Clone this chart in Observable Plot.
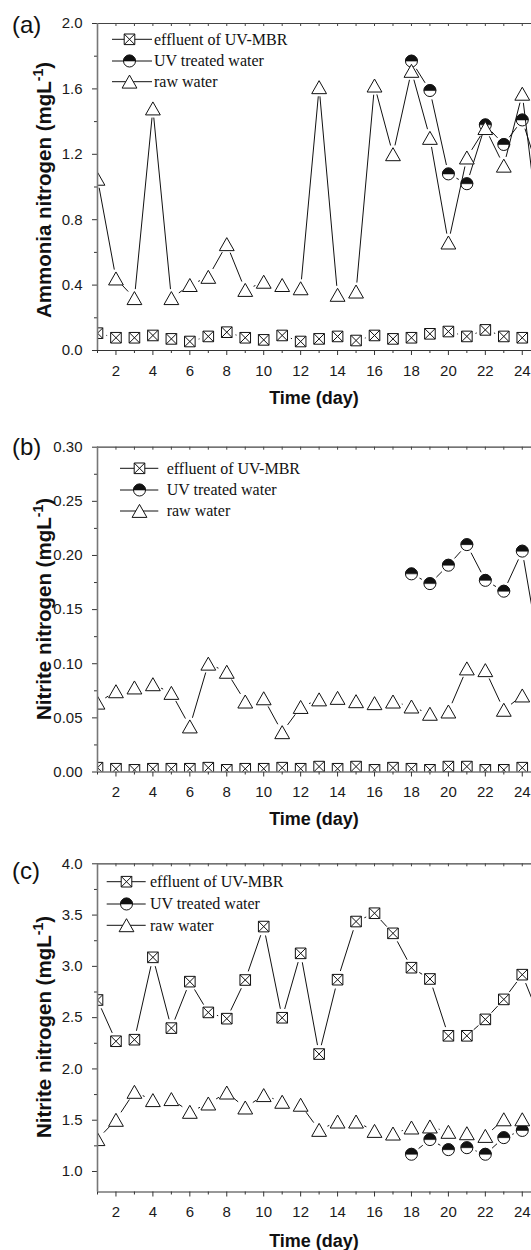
<!DOCTYPE html>
<html><head><meta charset="utf-8">
<script src="https://cdn.jsdelivr.net/npm/d3@7"></script>
<script src="https://cdn.jsdelivr.net/npm/@observablehq/plot@0.6"></script>
<style>
body{margin:0;background:#fff;}
#chart{width:531px;}
#chart svg{display:block;}
</style></head><body><div id="chart"></div>
<script>
// ---------- data ----------
const days = [1,2,3,4,5,6,7,8,9,10,11,12,13,14,15,16,17,18,19,20,21,22,23,24,25];
const seriesNames = ["effluent of UV-MBR", "UV treated water", "raw water"];
const xTickLabels = [2,4,6,8,10,12,14,16,18,20,22,24];

// (a) Ammonia nitrogen
const effluentA = [0.106,0.078,0.078,0.092,0.071,0.055,0.086,0.112,0.078,0.065,0.092,0.055,0.071,0.086,0.061,0.092,0.071,0.078,0.102,0.116,0.086,0.126,0.086,0.078,null];
const uvA = [null,null,null,null,null,null,null,null,null,null,null,null,null,null,null,null,null,1.77,1.59,1.08,1.02,1.38,1.26,1.41,1.05];
const rawA = [1.05,0.44,0.32,1.48,0.32,0.40,0.45,0.65,0.37,0.42,0.40,0.38,1.61,0.34,0.36,1.62,1.20,1.71,1.30,0.66,1.18,1.36,1.13,1.57,0.64];

// (b) Nitrite nitrogen
const effluentB = [0.004,0.003,0.002,0.003,0.003,0.003,0.004,0.002,0.003,0.003,0.004,0.003,0.005,0.003,0.005,0.002,0.004,0.003,0.002,0.005,0.005,0.002,0.002,0.004,null];
const uvB = [null,null,null,null,null,null,null,null,null,null,null,null,null,null,null,null,null,0.183,0.174,0.191,0.210,0.177,0.167,0.204,0.105];
const rawB = [0.064,0.0745,0.078,0.081,0.073,0.042,0.100,0.0925,0.065,0.068,0.0367,0.060,0.067,0.0684,0.0653,0.0635,0.065,0.0604,0.0537,0.0558,0.0956,0.094,0.0574,0.0706,null];

// (c)
const effluentC = [2.672,2.27,2.285,3.088,2.398,2.851,2.551,2.49,2.867,3.388,2.499,3.127,2.145,2.87,3.437,3.518,3.322,2.987,2.877,2.323,2.323,2.483,2.678,2.919,2.47];
const uvC = [null,null,null,null,null,null,null,null,null,null,null,null,null,null,null,null,null,1.168,1.311,1.213,1.232,1.168,1.33,1.40,null];
const rawC = [1.315,1.503,1.776,1.695,1.705,1.581,1.662,1.769,1.623,1.744,1.679,1.65,1.405,1.486,1.486,1.395,1.369,1.428,1.438,1.386,1.372,1.346,1.508,1.508,null];

const yTicksA = [0,0.4,0.8,1.2,1.6,2.0], yMinorA = [0.2,0.6,1.0,1.4,1.8];
const yTicksB = [0,0.05,0.10,0.15,0.20,0.25,0.30], yMinorB = [0.025,0.075,0.125,0.175,0.225,0.275];
const yTicksC = [1.0,1.5,2.0,2.5,3.0,3.5,4.0], yMinorC = [1.25,1.75,2.25,2.75,3.25,3.75];

// ---------- symbols ----------
const K = s => Math.sqrt(s/Math.PI)/5;
const squareX = {draw(c, s){ const h = 5.3*K(s); c.moveTo(-h,-h); c.lineTo(h,-h); c.lineTo(h,h); c.lineTo(-h,h); c.closePath(); c.moveTo(-h,-h); c.lineTo(h,h); c.moveTo(h,-h); c.lineTo(-h,h);} };
const tri = {draw(c, s){ const k = K(s); c.moveTo(0,-6.6*k); c.lineTo(7.4*k,6.4*k); c.lineTo(-7.4*k,6.4*k); c.closePath(); }};
const ring = {draw(c, s){ const r = 6*K(s); c.moveTo(r,0); c.arc(0,0,r,0,2*Math.PI); c.closePath(); }};
const topHalf = {draw(c, s){ const r = 6*K(s); c.moveTo(r,0); c.arc(0,0,r,0,Math.PI,true); c.closePath(); }};

const GAP = 9.5;
const INK = "#111";

function toRows(vals){ return days.map((d,i)=>({day:d, v:vals[i]})).filter(r => r.v != null); }
function toSegs(rows){ const s = []; for (let i = 1; i < rows.length; i++) { if (rows[i].day - rows[i-1].day === 1) s.push({x1: rows[i-1].day, y1: rows[i-1].v, x2: rows[i].day, y2: rows[i].v}); } return s; }

function seriesMarks(vals, kind){
  const rows = toRows(vals);
  const ms = [Plot.arrow(toSegs(rows), {x1:"x1", y1:"y1", x2:"x2", y2:"y2", stroke: INK, strokeWidth: 1, headLength: 0, insetStart: GAP, insetEnd: GAP, clip: true})];
  if (kind === "square") {
    ms.push(Plot.dot(rows, {x:"day", y:"v", symbol: squareX, r: 5, fill:"white", stroke: INK, strokeWidth: 1, clip: true}));
  } else if (kind === "circle") {
    ms.push(Plot.dot(rows, {x:"day", y:"v", symbol: ring, r: 5, fill:"white", stroke: INK, strokeWidth: 1, clip: true}));
    ms.push(Plot.dot(rows, {x:"day", y:"v", symbol: topHalf, r: 5, fill: INK, stroke: INK, strokeWidth: 0.6, clip: true}));
  } else {
    ms.push(Plot.dot(rows, {x:"day", y:"v", symbol: tri, r: 5, fill:"white", stroke: INK, strokeWidth: 1, clip: true}));
  }
  return ms;
}

const FONT = "'Liberation Sans', Arial, Helvetica, sans-serif";
const SERIF = "'Liberation Serif', 'Times New Roman', serif";

function panel(cfg){
  const plotH = cfg.height - cfg.mt - cfg.mb;
  const oddDays = days.filter(d => d % 2 === 1 && d <= 24);
  const allDays = days.filter(d => d <= 24);
  const svg = Plot.plot({
    width: 531, height: cfg.height,
    marginLeft: 97, marginRight: 0, marginTop: cfg.mt, marginBottom: cfg.mb,
    x: {domain: [1, 24.5]},
    y: {domain: cfg.yDomain},
    style: {fontFamily: FONT, fontSize: "15px", color: "#1a1a1a", background: "white", overflow: "visible"},
    marks: [
      Plot.axisY({ticks: cfg.yTicks, tickSize: 5, tickPadding: 10, tickFormat: d3.format(cfg.fmt), fontSize: 15, label: null, stroke: "#333"}),
      Plot.axisY({ticks: cfg.yMinor, tickSize: 3, tickFormat: () => "", label: null, stroke: "#333"}),
      Plot.axisX({ticks: xTickLabels, tickSize: 5, tickPadding: 9.5, fontSize: 15, label: null, stroke: "#333"}),
      Plot.axisX({ticks: oddDays, tickSize: 3, tickFormat: () => "", label: null, stroke: "#333"}),
      Plot.tickX(allDays, {x: d => d, insetBottom: plotH - 3, stroke: "#444"}),
      ...seriesMarks(cfg.eff, "square"),
      ...seriesMarks(cfg.uv, "circle"),
      ...seriesMarks(cfg.raw, "triangle"),
      Plot.ruleY([cfg.yDomain[1]], {stroke: "#444", strokeWidth: 1.2}),
      Plot.ruleY([cfg.yDomain[0]], {stroke: "#333", strokeWidth: 1.2}),
      Plot.ruleX([1], {stroke: "#777", strokeWidth: 1.6})
    ]
  });
  const s = d3.select(svg);
  // panel letter
  s.append("text").attr("x", 12).attr("y", cfg.letterY).attr("text-anchor", "start").attr("font-family", FONT).attr("font-size", 24).attr("fill", "#111").text(cfg.letter);
  // y title
  const yt = s.append("text").attr("transform", `translate(51,${cfg.yTitleY}) rotate(-90)`)
    .attr("text-anchor", "middle").attr("font-family", FONT).attr("font-weight", "bold").attr("font-size", 20.5).attr("fill", "#111");
  yt.append("tspan").text(cfg.yTitle + " (mgL");
  yt.append("tspan").attr("font-size", 14).attr("dy", -8.5).text("-1");
  yt.append("tspan").attr("dy", 8.5).text(")");
  // x title
  s.append("text").attr("x", 314).attr("y", cfg.xTitleY).attr("text-anchor", "middle").attr("font-family", FONT)
    .attr("font-weight", "bold").attr("font-size", 18).attr("fill", "#111").text("Time (day)");
  // legend
  const L = cfg.legend;
  const kinds = ["square", "circle", "triangle"];
  kinds.forEach((kind, i) => {
    const cy = L.rows[i];
    const g = s.append("g");
    g.append("line").attr("x1", L.x1).attr("x2", L.x2).attr("y1", cy).attr("y2", cy).attr("stroke", INK).attr("stroke-width", 1);
    const t = `translate(${L.sx},${cy})`;
    if (kind === "square") {
      g.append("path").attr("transform", t).attr("d", d3.symbol(squareX, Math.PI*25)()).attr("fill", "white").attr("stroke", INK);
    } else if (kind === "circle") {
      g.append("path").attr("transform", t).attr("d", d3.symbol(ring, Math.PI*25)()).attr("fill", "white").attr("stroke", INK);
      g.append("path").attr("transform", t).attr("d", d3.symbol(topHalf, Math.PI*25)()).attr("fill", INK).attr("stroke", INK).attr("stroke-width", 0.6);
    } else {
      g.append("path").attr("transform", t).attr("d", d3.symbol(tri, Math.PI*25)()).attr("fill", "white").attr("stroke", INK);
    }
    g.append("text").attr("x", L.tx).attr("y", cy + 5.3).attr("text-anchor", "start").attr("font-family", SERIF).attr("font-size", 16).attr("fill", "#111").text(seriesNames[i]);
  });
  document.getElementById("chart").appendChild(svg);
}

panel({letter: "(a)", letterY: 33, height: 420, mt: 23, mb: 70, yDomain: [0, 2.0], yTicks: yTicksA, yMinor: yMinorA, fmt: ".1f",
  eff: effluentA, uv: uvA, raw: rawA, yTitle: "Ammonia nitrogen", yTitleY: 190, xTitleY: 404,
  legend: {x1: 112, x2: 152, sx: 129.5, tx: 154, rows: [39.3, 61, 81.7]}});
panel({letter: "(b)", letterY: 35, height: 420, mt: 26.7, mb: 68.5, yDomain: [0, 0.30], yTicks: yTicksB, yMinor: yMinorB, fmt: ".2f",
  eff: effluentB, uv: uvB, raw: rawB, yTitle: "Nitrite nitrogen", yTitleY: 189, xTitleY: 405,
  legend: {x1: 120, x2: 158.3, sx: 139.5, tx: 166.7, rows: [48.3, 70, 91]}});
panel({letter: "(c)", letterY: 39.3, height: 410, mt: 23.3, mb: 58.5, yDomain: [0.8, 4.0], yTicks: yTicksC, yMinor: yMinorC, fmt: ".1f",
  eff: effluentC, uv: uvC, raw: rawC, yTitle: "Nitrite nitrogen", yTitleY: 187, xTitleY: 406.5,
  legend: {x1: 106.7, x2: 145.7, sx: 126.5, tx: 150, rows: [41.7, 64, 85.3]}});
</script></body></html>
